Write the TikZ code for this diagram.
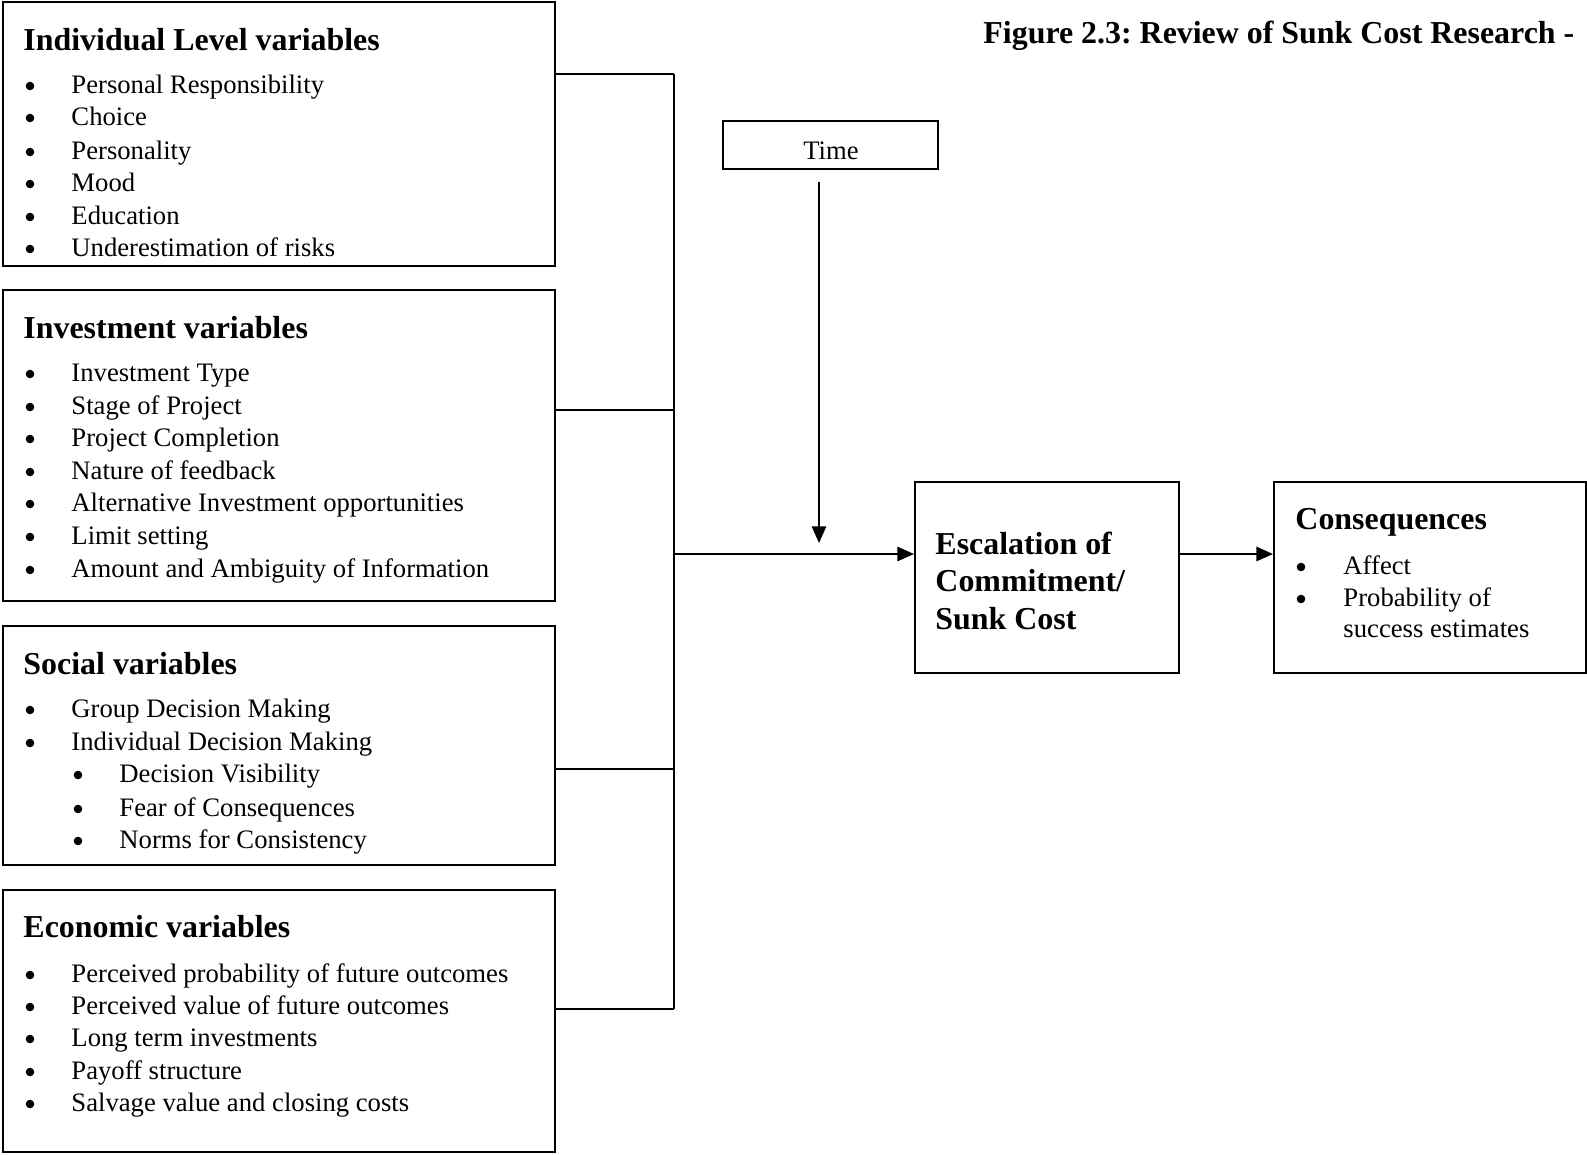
\documentclass[tikz,border=0pt]{standalone}
\usepackage{fontspec}
\setmainfont{Liberation Serif}
\usetikzlibrary{arrows.meta,fit}

\tikzset{
  boxst/.style={draw, line width=0.85pt, inner sep=0pt},
  itemst/.style={anchor=west, inner sep=0pt, text height=10pt, text depth=1.2pt,
    font=\fontsize{11.2}{13}\selectfont},
  headst/.style={anchor=west, inner sep=0pt, text height=11pt, text depth=1.1pt,
    font=\fontsize{13.4}{15.5}\selectfont\bfseries},
  dotst/.style={circle, fill, inner sep=0pt, minimum size=3.6pt},
  link/.style={line width=0.85pt},
  arr/.style={line width=0.85pt, -{Triangle[length=7pt,width=6pt]}},
}

\begin{document}
\begin{tikzpicture}[x=0.42pt, y=-0.42pt]
	\useasboundingbox (0,0) rectangle (1587,1154);

	% boxes
	\node[boxst, fit={(3,2) (555,266)}] (indiv) {};
	\node[boxst, fit={(3,290) (555,601)}] (invest) {};
	\node[boxst, fit={(3,626) (555,865)}] (social) {};
	\node[boxst, fit={(3,890) (555,1152)}] (econ) {};
	\node[boxst, fit={(723,121) (938,169)}] (time) {};
	\node[boxst, fit={(915,482) (1179,673)}] (esc) {};
	\node[boxst, fit={(1274,482) (1586,673)}] (conseq) {};

	\node[headst, anchor=base west, font=\fontsize{13.4}{15.5}\selectfont\bfseries\frenchspacing]
		(title) at (983,43) {Figure 2.3: Review of Sunk Cost Research -};
	\node[itemst, anchor=center] (timetxt) at (831,149) {Time};

	% headings
	\node[headst] (h1) at (23,39) {Individual Level variables};
	\node[headst] (h2) at (23,327) {Investment variables};
	\node[headst] (h3) at (23,663) {Social variables};
	\node[headst] (h4) at (23,926) {Economic variables};
	\node[headst] (h5) at (1295,518) {Consequences};
	\node[headst] (e1) at (935,543) {Escalation of};
	\node[headst] (e2) at (935,580) {Commitment/};
	\node[headst] (e3) at (935,618) {Sunk Cost};

	% bullet lists
	\foreach \T/\Y [count=\Z] in {Personal Responsibility/83, Choice/115, Personality/149,
		Mood/181, Education/214, Underestimation of risks/246,
		Investment Type/371, Stage of Project/404, Project Completion/436,
		Nature of feedback/469, Alternative Investment opportunities/501,
		Limit setting/534, Amount and Ambiguity of Information/567,
		Group Decision Making/707, Individual Decision Making/740,
		Perceived probability of future outcomes/972, Perceived value of future outcomes/1004,
		Long term investments/1036, Payoff structure/1069, Salvage value and closing costs/1101}
	{\node[dotst] (b\Z) at (30,\Y+3) {};
	 \node[itemst] (t\Z) at (71,\Y) {\T};}
	\foreach \T/\Y [count=\Z] in {Decision Visibility/772, Fear of Consequences/806,
		Norms for Consistency/838}
	{\node[dotst] (sb\Z) at (78,\Y+3) {};
	 \node[itemst] (st\Z) at (119,\Y) {\T};}
	\foreach \T/\Y [count=\Z] in {Affect/564, Probability of/596}
	{\node[dotst] (cb\Z) at (1301,\Y+3) {};
	 \node[itemst] (ct\Z) at (1343,\Y) {\T};}
	\node[itemst] (ct3) at (1343,627) {success estimates};

	% connectors
	\coordinate (j1) at (674,74);
	\coordinate (j2) at (674,410);
	\coordinate (j3) at (674,769);
	\coordinate (j4) at (674,1009);
	\coordinate (jm) at (674,554);
	\coordinate (tstart) at (819,182);
	\coordinate (tend) at (819,543);
	\draw[link] (indiv.east |- j1) -- (j1);
	\draw[link] (invest.east |- j2) -- (j2);
	\draw[link] (social.east |- j3) -- (j3);
	\draw[link] (econ.east |- j4) -- (j4);
	\draw[link] (j1) -- (j4);
	\draw[arr] (jm) -- (jm -| esc.west);
	\draw[arr] (tstart) -- (tend);
	\draw[arr] (jm -| esc.east) -- (jm -| conseq.west);
\end{tikzpicture}
\end{document}
